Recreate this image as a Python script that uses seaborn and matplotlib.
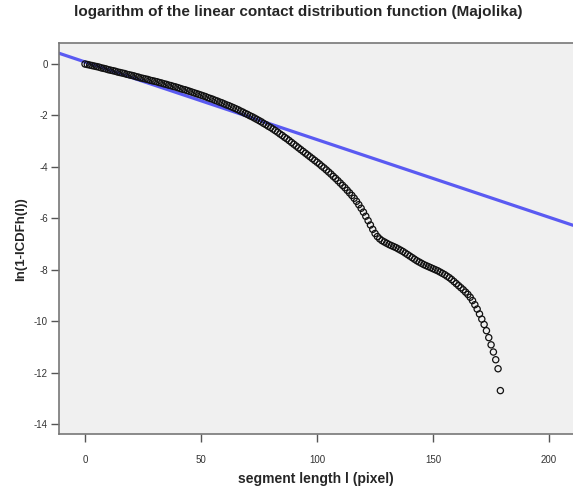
import matplotlib
matplotlib.use("Agg")
import matplotlib.pyplot as plt
import seaborn as sns
import pandas as pd

# segment length l (pixel) and ln(1-ICDFh(l))
seg_len = list(range(0, 180))
log_vals = [
    0.00, -0.02, -0.04, -0.06, -0.08, -0.10, -0.12, -0.15, -0.17, -0.19,
    -0.22, -0.24, -0.26, -0.28, -0.31, -0.33, -0.35, -0.37, -0.40, -0.42,
    -0.44, -0.46, -0.49, -0.51, -0.54, -0.56, -0.58, -0.60, -0.63, -0.65,
    -0.67, -0.69, -0.72, -0.74, -0.77, -0.79, -0.82, -0.84, -0.87, -0.89,
    -0.92, -0.95, -0.98, -1.00, -1.03, -1.06, -1.09, -1.12, -1.15, -1.18,
    -1.21, -1.24, -1.27, -1.31, -1.34, -1.37, -1.41, -1.44, -1.48, -1.51,
    -1.55, -1.59, -1.62, -1.66, -1.70, -1.74, -1.78, -1.83, -1.87, -1.92,
    -1.96, -2.01, -2.05, -2.10, -2.15, -2.20, -2.25, -2.31, -2.36, -2.42,
    -2.47, -2.53, -2.59, -2.65, -2.72, -2.78, -2.85, -2.91, -2.98, -3.05,
    -3.12, -3.19, -3.26, -3.33, -3.40, -3.47, -3.54, -3.61, -3.68, -3.75,
    -3.82, -3.89, -3.97, -4.04, -4.12, -4.20, -4.28, -4.37, -4.45, -4.54,
    -4.63, -4.72, -4.81, -4.91, -5.01, -5.11, -5.22, -5.34, -5.47, -5.61,
    -5.76, -5.92, -6.09, -6.26, -6.43, -6.59, -6.71, -6.80, -6.87, -6.92,
    -6.97, -7.02, -7.06, -7.10, -7.14, -7.19, -7.24, -7.29, -7.35, -7.41,
    -7.47, -7.53, -7.59, -7.65, -7.70, -7.75, -7.80, -7.84, -7.88, -7.92,
    -7.96, -8.00, -8.04, -8.09, -8.14, -8.19, -8.25, -8.31, -8.38, -8.46,
    -8.54, -8.62, -8.70, -8.78, -8.87, -8.96, -9.07, -9.20, -9.36, -9.53,
    -9.72, -9.92, -10.13, -10.37, -10.64, -10.92, -11.20, -11.50, -11.85, -12.70,
]

# fitted straight line
fit_intercept = 0.08
fit_slope = -0.0302

x_ticks = [0, 50, 100, 150, 200]
y_ticks = [0, -2, -4, -6, -8, -10, -12, -14]

df = pd.DataFrame({"l": seg_len, "val": log_vals})

sns.set_style("white")
plt.rcParams["font.family"] = ["Liberation Sans", "DejaVu Sans"]
plt.rcParams["axes.unicode_minus"] = False

fig = plt.figure(figsize=(5.73, 4.88), dpi=100)
ax = fig.add_axes([0.103, 0.110, 0.897, 0.801])
ax.set_facecolor("#f0f0f0")

ax.axline((0, fit_intercept), slope=fit_slope, color="#5a5af2", lw=2.3, zorder=2)
sns.scatterplot(data=df, x="l", y="val", ax=ax, marker="o", s=20,
                facecolor="none", edgecolor="#111111", linewidth=0.9,
                zorder=3)

ax.set_xlim(-11.2, 210.3)
ax.set_ylim(-14.4, 0.8)
ax.set_xticks(x_ticks)
ax.set_yticks(y_ticks)
ax.tick_params(axis="y", direction="out", length=6, width=1, color="#555555",
               labelsize=7, labelcolor="#333333", left=True, pad=2)
ax.tick_params(axis="x", direction="out", length=6, width=1, color="#555555",
               labelsize=7, labelcolor="#333333", bottom=True, pad=9)

for side in ["left", "bottom", "top"]:
    ax.spines[side].set_color("#777777")
    ax.spines[side].set_linewidth(1.2)
ax.spines["right"].set_visible(False)

ax.set_xlabel("segment length l (pixel)", fontsize=10, fontweight="bold",
              labelpad=5)
ax.set_ylabel("ln(1-ICDFh(l))", fontsize=9.5, fontweight="bold", labelpad=5)
fig.suptitle("logarithm of the linear contact distribution function (Majolika)",
             x=0.52, y=0.99, fontsize=11, fontweight="bold")

fig.savefig("out.png", dpi=100)
